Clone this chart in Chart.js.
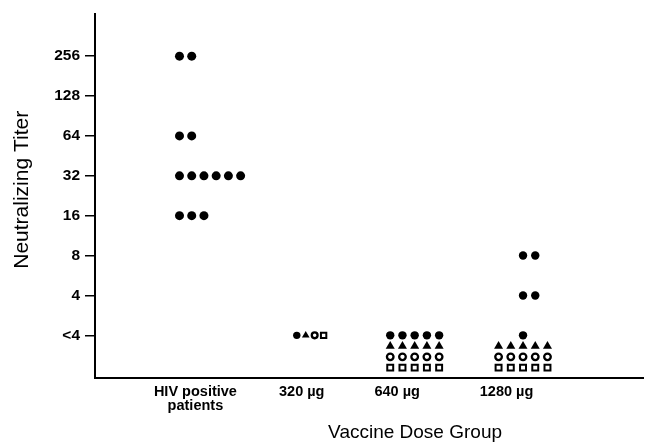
<!DOCTYPE html>
<html>
<head>
<meta charset="utf-8">
<title>Neutralizing Titer by Vaccine Dose Group</title>
<script src="https://cdn.jsdelivr.net/npm/chart.js@4"></script>
<style>
    html, body { margin: 0; padding: 0; background: #fff; }
    #chart { display: block; }
</style>
</head>
<body>
<canvas id="chart" width="650" height="445"></canvas>
<script>
// Data
const groups = [['HIV positive', 'patients'], '320 µg', '640 µg', '1280 µg'];
const titerLabels = ['<4', '4', '8', '16', '32', '64', '128', '256'];

// number of subjects at each titer level (index into titerLabels), per group
const filledCircle = [
    [0, 0, 0, 3, 6, 2, 0, 2],
    [1, 0, 0, 0, 0, 0, 0, 0],
    [5, 0, 0, 0, 0, 0, 0, 0],
    [1, 2, 2, 0, 0, 0, 0, 0]
];
const filledTriangle = [
    [0, 0, 0, 0, 0, 0, 0, 0],
    [1, 0, 0, 0, 0, 0, 0, 0],
    [5, 0, 0, 0, 0, 0, 0, 0],
    [5, 0, 0, 0, 0, 0, 0, 0]
];
const openCircle = [
    [0, 0, 0, 0, 0, 0, 0, 0],
    [1, 0, 0, 0, 0, 0, 0, 0],
    [5, 0, 0, 0, 0, 0, 0, 0],
    [5, 0, 0, 0, 0, 0, 0, 0]
];
const openSquare = [
    [0, 0, 0, 0, 0, 0, 0, 0],
    [1, 0, 0, 0, 0, 0, 0, 0],
    [5, 0, 0, 0, 0, 0, 0, 0],
    [5, 0, 0, 0, 0, 0, 0, 0]
];

const xTitle = 'Vaccine Dose Group';
const yTitle = 'Neutralizing Titer';

// Layout of the dot columns (x scale units, 1 unit ~ 100px)
const labelPos = [1.01, 2.08, 3.04, 4.14];
const dotAnchor = [0.85, 2.165, 3.216, 4.306];
const xTitlePos = 3.22;
const yTitlePos = 3.65;
const rowLayout = ['left', 'inline', 'center', 'center'];
const dotStep = 0.123;
const inlineStep = 0.09;
const rowGap = 0.27;   // vertical gap between symbol rows below "<4"
const FONT = 'Liberation Sans, Arial, Helvetica, sans-serif';

function buildPoints(counts, sym) {
    const pts = [];
    counts.forEach((levels, g) => {
        levels.forEach((n, level) => {
            for (let j = 0; j < n; j++) {
                let x, y = level;
                if (rowLayout[g] === 'inline') {
                    x = dotAnchor[g] + (sym - 1.5) * inlineStep;
                } else if (rowLayout[g] === 'left') {
                    x = dotAnchor[g] + j * dotStep;
                } else {
                    x = dotAnchor[g] + (j - Math.floor((n - 1) / 2)) * dotStep;
                }
                if (level === 0 && rowLayout[g] !== 'inline') y -= sym * rowGap;
                pts.push({ x: x, y: y, g: g });
            }
        });
    });
    return pts;
}

function radius(big, small) {
    return ctx => (ctx.raw && ctx.raw.g === 1) ? small : big;
}

const datasets = [
    {
        label: 'filled circle',
        data: buildPoints(filledCircle, 0),
        pointStyle: 'circle',
        pointRadius: ctx => {
            if (!ctx.raw) return 4.3;
            if (ctx.raw.g === 1) return 3.7;
            return ctx.raw.g === 0 ? 4.5 : 4.2;
        },
        backgroundColor: '#000',
        borderColor: '#000',
        borderWidth: 0
    },
    {
        label: 'filled triangle',
        data: buildPoints(filledTriangle, 1),
        pointStyle: 'triangle',
        pointRadius: radius(5.2, 4.4),
        backgroundColor: '#000',
        borderColor: '#000',
        borderWidth: 0
    },
    {
        label: 'open circle',
        data: buildPoints(openCircle, 2),
        pointStyle: 'circle',
        pointRadius: radius(3.3, 2.9),
        backgroundColor: '#fff',
        borderColor: '#000',
        borderWidth: 2.3
    },
    {
        label: 'open square',
        data: buildPoints(openSquare, 3),
        pointStyle: 'rect',
        pointRadius: radius(4.2, 3.8),
        backgroundColor: '#fff',
        borderColor: '#000',
        borderWidth: 2
    }
];

// axis titles sit off-centre in the original, so draw them at scale values
const axisTitlePlugin = {
    id: 'axisTitles',
    afterDraw(chart) {
        const ctx = chart.ctx;
        const xs = chart.scales.x;
        const ys = chart.scales.y;
        ctx.save();
        ctx.fillStyle = '#000';
        ctx.textAlign = 'center';
        ctx.textBaseline = 'middle';
        ctx.font = '19px ' + FONT;
        ctx.fillText(xTitle, xs.getPixelForValue(xTitlePos), xs.bottom - 12);
        ctx.translate(22, ys.getPixelForValue(yTitlePos));
        ctx.rotate(-Math.PI / 2);
        ctx.font = '21px ' + FONT;
        ctx.fillText(yTitle, 0, 0);
        ctx.restore();
    }
};

const chart = new Chart(document.getElementById('chart'), {
    type: 'scatter',
    data: { datasets: datasets },
    plugins: [axisTitlePlugin],
    options: {
        responsive: false,
        animation: false,
        devicePixelRatio: 1,
        layout: { padding: { top: 12, right: 3, left: 0, bottom: 0 } },
        plugins: {
            legend: { display: false },
            tooltip: { enabled: false }
        },
        scales: {
            x: {
                type: 'linear',
                min: 0,
                max: 5.52,
                grid: { display: false, drawTicks: false },
                border: { display: true, color: '#000', width: 2 },
                afterBuildTicks: s => { s.ticks = labelPos.map(v => ({ value: v })); },
                afterFit: s => { s.height = 67; },
                ticks: {
                    autoSkip: false,
                    maxRotation: 0,
                    padding: 7,
                    color: '#000',
                    font: { family: FONT, size: 14.5, weight: 'bold', lineHeight: 0.97 },
                    callback: (v, i) => groups[i]
                }
            },
            y: {
                type: 'linear',
                min: -1.07,
                max: 8.05,
                grid: {
                    display: true,
                    drawOnChartArea: false,
                    drawTicks: true,
                    tickLength: 10,
                    color: '#000',
                    lineWidth: 1.5
                },
                border: { display: true, color: '#000', width: 2 },
                afterBuildTicks: s => { s.ticks = titerLabels.map((_, i) => ({ value: i })); },
                afterFit: s => { s.width = 95; },
                ticks: {
                    autoSkip: false,
                    padding: 5,
                    color: '#000',
                    font: { family: FONT, size: 15.5, weight: 'bold' },
                    callback: v => titerLabels[v]
                }
            }
        }
    }
});
</script>
</body>
</html>
